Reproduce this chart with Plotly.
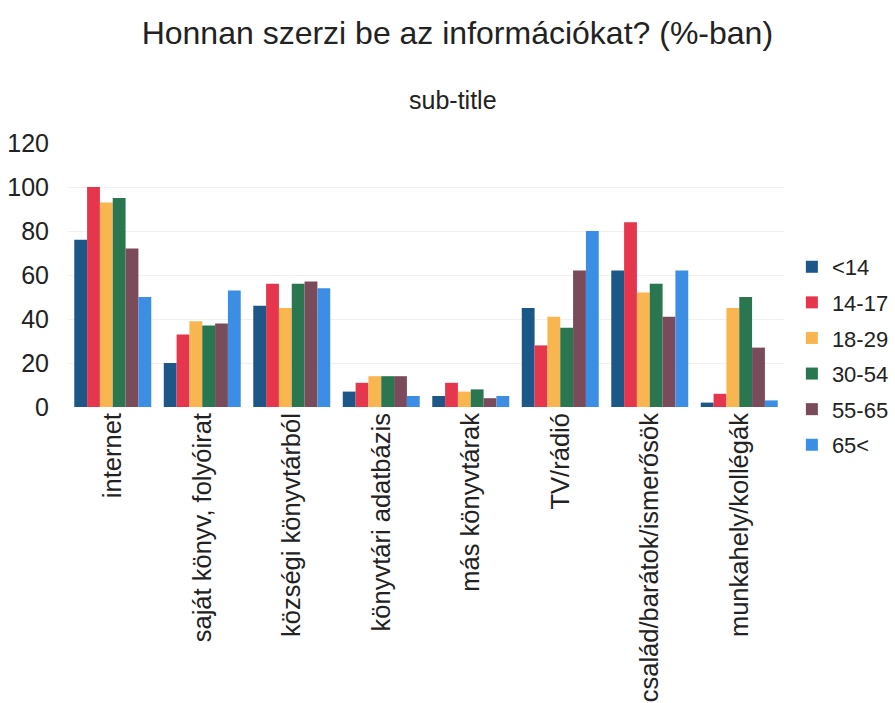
import plotly.graph_objects as go

categories = ["internet", "saját könyv, folyóirat", "községi könyvtárból", "könyvtári adatbázis",
              "más könyvtárak", "TV/rádió", "család/barátok/ismerősök", "munkahely/kollégák"]
series_names = ["<14", "14-17", "18-29", "30-54", "55-65", "65<"]
v_lt14 = [76, 20, 46, 7, 5, 45, 62, 2]
v_14_17 = [100, 33, 56, 11, 11, 28, 84, 6]
v_18_29 = [93, 39, 45, 14, 7, 41, 52, 45]
v_30_54 = [95, 37, 56, 14, 8, 36, 56, 50]
v_55_65 = [72, 38, 57, 14, 4, 62, 41, 27]
v_65plus = [50, 53, 54, 5, 5, 80, 62, 3]
y_ticks = [0, 20, 40, 60, 80, 100, 120]

values = [v_lt14, v_14_17, v_18_29, v_30_54, v_55_65, v_65plus]
colors = ["#1c5788", "#e6364e", "#f9b650", "#2a7650", "#7a4b5b", "#3b8ee4"]

fig = go.Figure()
for name, vals, col in zip(series_names, values, colors):
    fig.add_trace(go.Bar(x=categories, y=vals, name=name, legendgroup=name,
                         marker=dict(color=col, line=dict(width=0))))

font_family = "Liberation Sans, Arial, sans-serif"
fig.update_layout(
    width=895, height=703,
    barmode="group", bargap=0.14, bargroupgap=0,
    paper_bgcolor="white", plot_bgcolor="white",
    margin=dict(l=68, r=111, t=143, b=296, autoexpand=False),
    font=dict(family=font_family, color="#222222"),
    title=dict(text="Honnan szerzi be az információkat? (%-ban)", x=0.511, xanchor="center",
               y=1 - 33 / 703, yanchor="middle", yref="container",
               font=dict(size=32, family=font_family, color="#222222")),
    legend=dict(x=1.011, xanchor="left", y=0.61, yanchor="top",
                font=dict(size=22, family=font_family, color="#222222"),
                tracegroupgap=4, bgcolor="rgba(0,0,0,0)"),
    xaxis=dict(tickangle=-90, tickfont=dict(size=25.5, family=font_family, color="#222222"),
               showgrid=False, showline=False, ticks="", ticklen=0, automargin=False),
    yaxis=dict(range=[0, 120], tickvals=y_ticks, tickfont=dict(size=25, family=font_family, color="#222222"),
               showgrid=True, gridcolor="#f0f0f0", zeroline=False, showline=False, ticks="",
               ticklabelstandoff=18, automargin=False),
    annotations=[dict(text="sub-title", xref="paper", yref="paper", x=(453 - 68) / 716, y=(407 - 100) / 264,
                      xanchor="center", yanchor="middle", showarrow=False,
                      font=dict(size=25, family=font_family, color="#222222"))],
)

fig.write_html("out.html", config={"displayModeBar": False},
               post_script="document.body.style.margin='0';document.body.style.overflow='hidden';")
